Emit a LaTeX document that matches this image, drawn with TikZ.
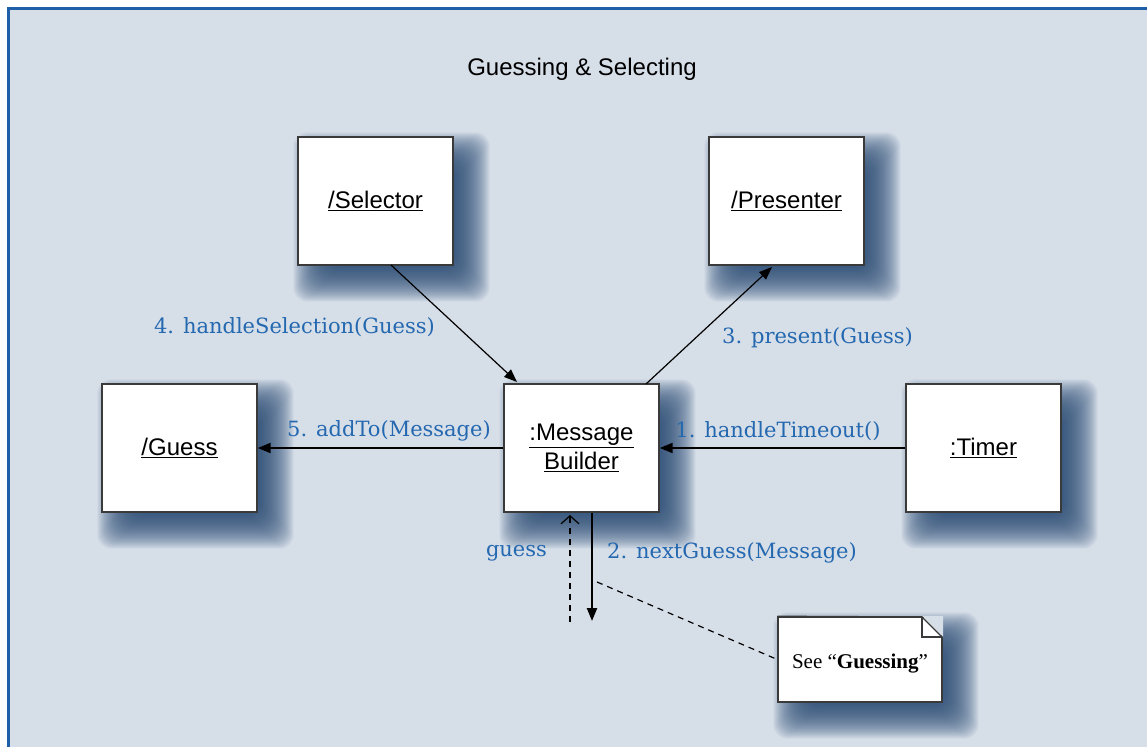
\documentclass[tikz,border=0pt]{standalone}
\usepackage{fontspec}
\setmainfont{Liberation Sans}
\newfontfamily\lblfont{DejaVu Serif}
\newfontfamily\notefont{Liberation Serif}
\usetikzlibrary{arrows.meta}
\definecolor{bgc}{HTML}{D6DEE8}
\definecolor{framec}{HTML}{1F5FA8}
\definecolor{shadowc}{HTML}{2A4C75}
\definecolor{lblc}{HTML}{2468B0}
\definecolor{boxline}{HTML}{3A3A3A}
\pgfdeclarelayer{bg}
\pgfdeclarelayer{shadow}
\pgfsetlayers{bg,shadow,main}
\tikzset{
  objbox/.style={draw=boxline, fill=white, line width=1.4pt, minimum width=155pt, minimum height=128pt, align=center, font=\fontsize{24}{28}\selectfont, inner sep=0pt},
  msglabel/.style={text=lblc, font=\lblfont\fontsize{21}{24}\selectfont, inner sep=0pt},
  thinarrow/.style={line width=1.2pt, -{Triangle[length=13pt,width=10pt]}},
  thickarrow/.style={line width=2.2pt, -{Triangle[length=13pt,width=10pt]}},
  dashline/.style={line width=1.2pt, dash pattern=on 6pt off 5pt},
}
\newcommand\nshadow[1]{%
  \foreach \r in {-16,-15,...,20} {
    \fill[shadowc, opacity=0.05, rounded corners=14pt]
      ([shift={(16-\r,16-\r)}]#1.north west) rectangle ([shift={(16+\r,16+\r)}]#1.south east);
  }%
}
\begin{document}
\begin{tikzpicture}[x=1pt,y=-1pt]
\useasboundingbox (0,0) rectangle (1147,746);
\begin{pgfonlayer}{bg}
\clip (0,0) rectangle (1147,746);
\fill[bgc] (8,9) rectangle (1170,770);
\draw[framec, line width=3pt] (8,770) -- (8,9) -- (1170,9);
\end{pgfonlayer}

\node[font=\fontsize{24}{28}\selectfont, inner sep=0pt] (title) at (582,69) {Guessing \& Selecting};

\node[objbox] (sel) at (375.5,201) {\underline{/Selector}};
\node[objbox] (pres) at (786.5,201) {\underline{/Presenter}};
\node[objbox] (guess) at (179.5,448) {\underline{/Guess}};
\node[objbox] (mb) at (581.5,448) {\underline{:Message}\\[1pt]\underline{Builder}};
\node[objbox] (timer) at (983.5,448) {\underline{:Timer}};

\node[draw=boxline, line width=1.4pt, fill=white, minimum width=164pt, minimum height=85pt, inner sep=0pt] (note) at (860,659.5) {};
\fill[bgc] (922,616) -- (943,616) -- (943,637) -- cycle;
\draw[boxline, line width=1.4pt] (note.north west) -- (922,617) -- (942,637) -- (942,702);
\draw[boxline, line width=1.4pt] (922,617) -- (922,637) -- (942,637);
\node[font=\notefont\fontsize{21}{24}\selectfont, inner sep=0pt] (notetext) at (860,664) {See “\textbf{Guessing}”};

\begin{pgfonlayer}{shadow}
\nshadow{sel}
\nshadow{pres}
\nshadow{guess}
\nshadow{mb}
\nshadow{timer}
\nshadow{note}
\end{pgfonlayer}

\coordinate (selout) at (391,265);
\coordinate (mbin) at (517,382);
\draw[thinarrow] (selout) -- (mbin);
\coordinate (mbout) at (646,384);
\coordinate (presin) at (772,267);
\draw[thinarrow] (mbout) -- (presin);
\draw[thickarrow] (timer.west) -- (mb.east);
\draw[thickarrow] (mb.west) -- (guess.east);
\coordinate (downend) at (592,621);
\draw[thickarrow] (mb.south -| downend) -- (downend);
\coordinate (dashstart) at (570,622);
\coordinate (dashend) at (570,515);
\draw[dashline, -{Straight Barb[length=8pt,width=18pt,line width=1.2pt]}] (dashstart) -- (dashend);
\coordinate (notelink) at (597,582);
\draw[dashline] (notelink) -- (note.west);

\node[msglabel] (l4) at (294.5,327) {4. handleSelection(Guess)};
\node[msglabel] (l3) at (817.5,338) {3. present(Guess)};
\node[msglabel] (l5) at (389,431) {5. addTo(Message)};
\node[msglabel] (l1) at (778,431) {1. handleTimeout()};
\node[msglabel] (lg) at (516.5,553) {guess};
\node[msglabel] (l2) at (732,553) {2. nextGuess(Message)};
\end{tikzpicture}
\end{document}
